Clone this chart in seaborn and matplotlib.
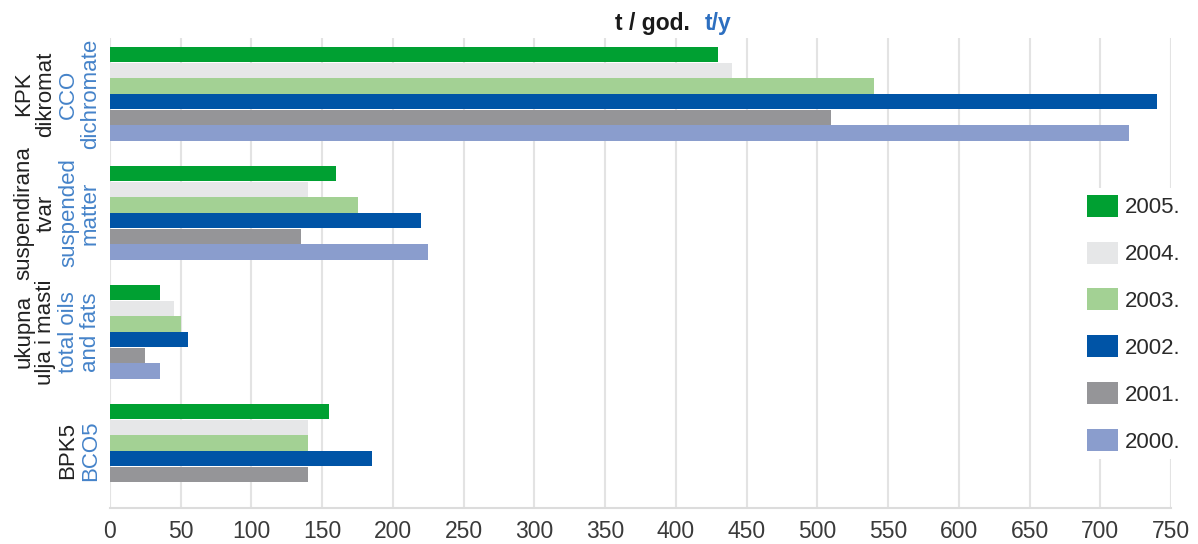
import numpy as np
import pandas as pd
import matplotlib
matplotlib.use("Agg")
import matplotlib.pyplot as plt
from matplotlib.patches import Patch
import seaborn as sns

categories = ["KPK", "SUSP", "OILS", "BPK5"]
cat_black = ["KPK\ndikromat", "suspendirana\ntvar", "ukupna\nulja i masti", "BPK5"]
cat_blue = ["CCO\ndichromate", "suspended\nmatter", "total oils\nand fats", "BCO5"]
years = ["2005.", "2004.", "2003.", "2002.", "2001.", "2000."]
v2005 = [430, 160, 35, 155]
v2004 = [440, 140, 45, 140]
v2003 = [540, 175, 50, 140]
v2002 = [740, 220, 55, 185]
v2001 = [510, 135, 25, 140]
v2000 = [720, 225, 35, np.nan]
colors = ["#00a032", "#e6e7e8", "#a3d194", "#0054a6", "#959598", "#8a9dcd"]
xticks = list(range(0, 751, 50))

series = [v2005, v2004, v2003, v2002, v2001, v2000]
rows = []
for y, vals in zip(years, series):
    for c, v in zip(categories, vals):
        rows.append({"cat": c, "year": y, "value": v})
df = pd.DataFrame(rows)

sns.set_theme(style="white")
plt.rcParams["font.family"] = ["Liberation Sans", "DejaVu Sans"]

W, H = 1198, 544
fig = plt.figure(figsize=(W / 100, H / 100), dpi=100)
ax_left, ax_right, ax_top, ax_bottom = 110, 1171, 38, 508
ax = fig.add_axes([ax_left / W, 1 - ax_bottom / H, (ax_right - ax_left) / W, (ax_bottom - ax_top) / H])

sns.barplot(data=df, y="cat", x="value", hue="year", order=categories, hue_order=years,
            palette=colors, orient="h", width=0.79, gap=0.03, ax=ax, legend=False,
            saturation=1, linewidth=0)

ax.set_xlim(0, 750)
ax.set_ylim(3.48, -0.47)
ax.set_xticks(xticks)
ax.set_xticklabels([str(t) for t in xticks], fontsize=16.5, color="#3a3a3a")
ax.set_yticks([])
ax.set_xlabel("")
ax.set_ylabel("")
ax.tick_params(axis="x", length=0, pad=9)
ax.grid(axis="x", color="#e3e3e3", linewidth=1.5)
ax.grid(axis="y", visible=False)
ax.set_axisbelow(True)
for s in ["top", "right", "left"]:
    ax.spines[s].set_visible(False)
ax.spines["bottom"].set_color("#dcdcdc")
ax.spines["bottom"].set_linewidth(1.5)

# category labels
blue_col = "#4583c9"
fig.canvas.draw()
renderer = fig.canvas.get_renderer()
for i in range(len(categories)):
    yfig = ax.transData.transform((0, i))[1]
    tb = fig.text(101 / W, yfig / H, cat_blue[i], rotation=90, ha="right", va="center",
                  multialignment="center", fontsize=16, color=blue_col, linespacing=1.05)
    fig.canvas.draw()
    bb = tb.get_window_extent(renderer)
    fig.text((bb.x0 - 2) / W, yfig / H, cat_black[i], rotation=90, ha="right", va="center",
             multialignment="center", fontsize=16, color="#222222", linespacing=1.05)

# title
fig.text(615 / W, 1 - 30 / H, "t / god.", fontsize=16.5, fontweight="bold", color="#1a1a1a",
         ha="left", va="baseline")
fig.text(705 / W, 1 - 30 / H, "t/y", fontsize=16.5, fontweight="bold", color="#2d6fc0",
         ha="left", va="baseline")

handles = [Patch(facecolor=c, edgecolor="none") for c in colors]
leg = ax.legend(handles, years, loc="upper left", bbox_to_anchor=(1080 / W, 1 - 188 / H),
                bbox_transform=fig.transFigure, frameon=True, facecolor="white",
                edgecolor="none", framealpha=1, fontsize=16, handlelength=1.4,
                handleheight=1.15, handletextpad=0.3, labelspacing=1.05, borderpad=0.3,
                borderaxespad=0)
for t in leg.get_texts():
    t.set_color("#2a2a2a")

fig.savefig("out.png", dpi=100)
